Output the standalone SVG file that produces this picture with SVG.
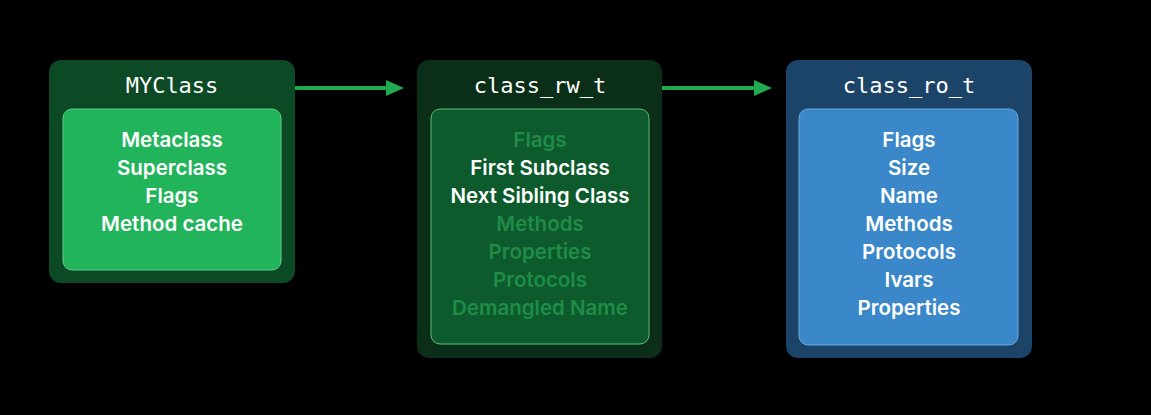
<svg xmlns="http://www.w3.org/2000/svg" width="1151" height="415" viewBox="0 0 1151 415">
<defs>
<style>
.title{font-family:"DejaVu Sans Mono","Liberation Mono",monospace;font-size:22px;fill:#ffffff;text-anchor:middle}
.item{font-family:Inter,"Noto Sans",sans-serif;font-size:20.5px;font-weight:600;fill:#ffffff;text-anchor:middle}
.dim{fill:#1f8c47}
.conn{stroke:#1faa4f;stroke-width:4;fill:none}
</style>
<marker id="ah" markerWidth="18" markerHeight="16" refX="0" refY="8" markerUnits="userSpaceOnUse" orient="auto">
<path d="M0,0 L18,8 L0,16 Z" fill="#1faa4f"/>
</marker>
</defs>
<rect width="1151" height="415" fill="#000000"/>
<g id="connectors">
<line class="conn" x1="295" y1="88" x2="386" y2="88" marker-end="url(#ah)"/>
<line class="conn" x1="662" y1="88" x2="754" y2="88" marker-end="url(#ah)"/>
</g>
<g id="myclass">
<rect x="49" y="60" width="246" height="223" rx="12" fill="#0c4a25"/>
<rect x="63" y="109" width="218" height="161" rx="9" fill="#22b45b" stroke="#5fcf85" stroke-width="1"/>
<text class="title" x="172" y="93">MYClass</text>
<text class="item" x="172" y="147">Metaclass</text>
<text class="item" x="172" y="175">Superclass</text>
<text class="item" x="172" y="203">Flags</text>
<text class="item" x="172" y="231">Method cache</text>
</g>
<g id="class_rw_t">
<rect x="417" y="60" width="245" height="298" rx="12" fill="#0a2e17"/>
<rect x="431" y="109" width="218" height="235" rx="9" fill="#0d5a2c" stroke="#5cbf7c" stroke-width="1"/>
<text class="title" x="540" y="93">class_rw_t</text>
<text class="item dim" x="540" y="147">Flags</text>
<text class="item" x="540" y="175">First Subclass</text>
<text class="item" x="540" y="203">Next Sibling Class</text>
<text class="item dim" x="540" y="231">Methods</text>
<text class="item dim" x="540" y="259">Properties</text>
<text class="item dim" x="540" y="287">Protocols</text>
<text class="item dim" x="540" y="315">Demangled Name</text>
</g>
<g id="class_ro_t">
<rect x="786" y="60" width="246" height="298" rx="12" fill="#1b4468"/>
<rect x="799" y="109" width="219" height="236" rx="9" fill="#3a88c9" stroke="#6aa8dc" stroke-width="1"/>
<text class="title" x="909" y="93">class_ro_t</text>
<text class="item" x="909" y="147">Flags</text>
<text class="item" x="909" y="175">Size</text>
<text class="item" x="909" y="203">Name</text>
<text class="item" x="909" y="231">Methods</text>
<text class="item" x="909" y="259">Protocols</text>
<text class="item" x="909" y="287">Ivars</text>
<text class="item" x="909" y="315">Properties</text>
</g>
</svg>
